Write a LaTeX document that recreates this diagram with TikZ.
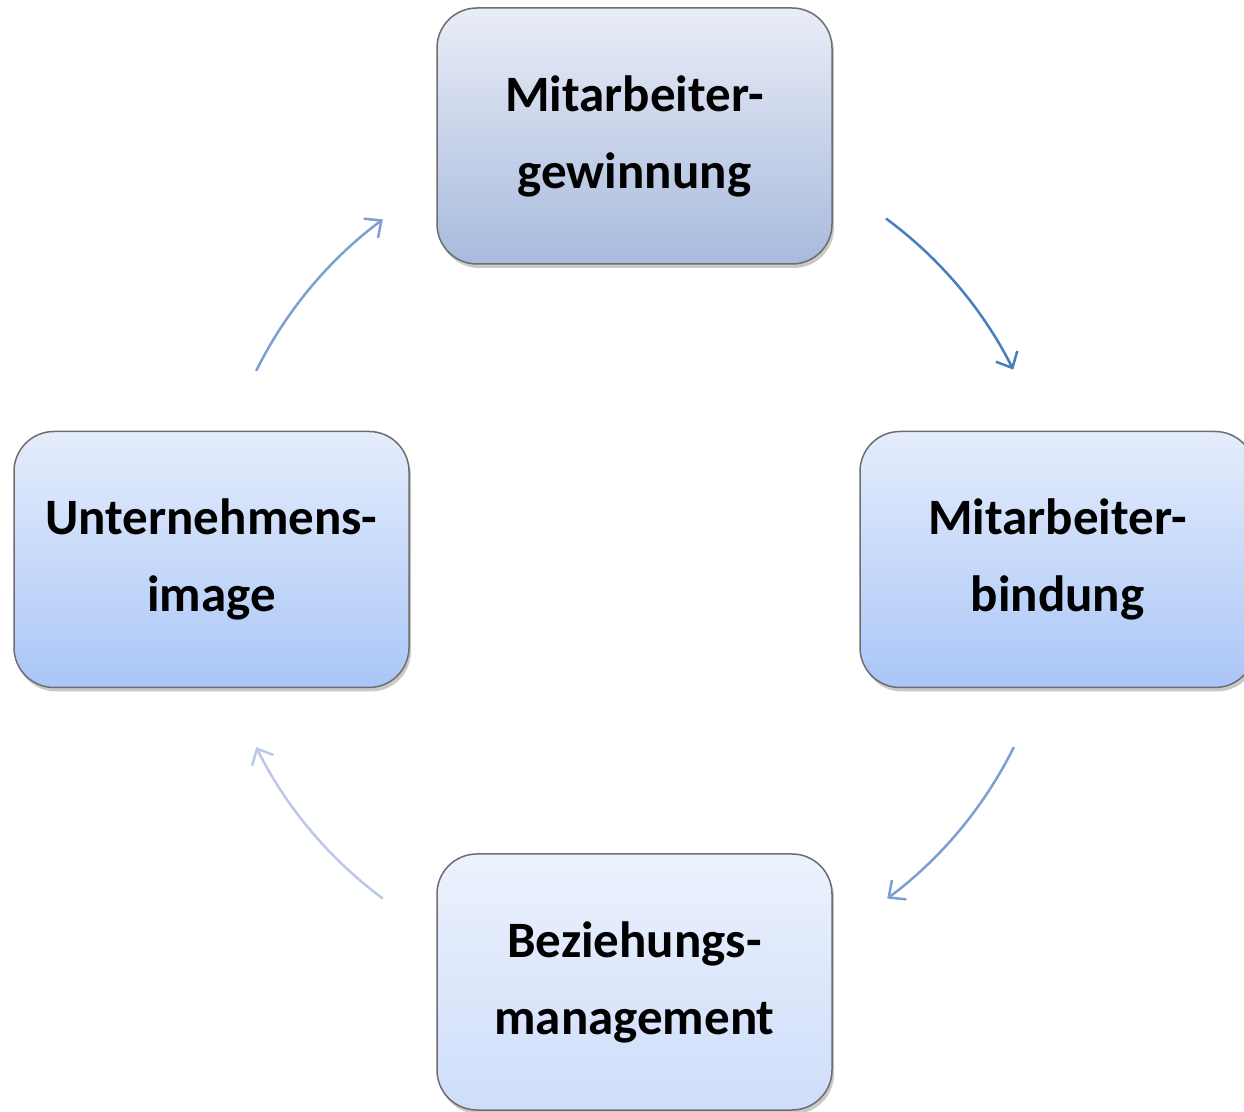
\documentclass[tikz,border=0pt]{standalone}
\usepackage{fontspec}
\setmainfont{Carlito}
\usetikzlibrary{arrows.meta,shadows,calc}
\definecolor{topA}{RGB}{233,237,247}
\definecolor{topB}{RGB}{168,186,221}
\definecolor{sideA}{RGB}{229,237,252}
\definecolor{sideB}{RGB}{170,198,247}
\definecolor{botA}{RGB}{236,242,253}
\definecolor{botB}{RGB}{206,221,250}
\definecolor{edge}{RGB}{110,110,110}
\definecolor{arrA}{RGB}{74,126,187}
\definecolor{arrB}{RGB}{125,159,210}
\definecolor{arrC}{RGB}{186,202,230}
\begin{document}
\begin{tikzpicture}[x=1pt,y=1pt,
  box/.style={draw=edge, line width=1.5pt, rounded corners=40pt,
    minimum width=395pt, minimum height=256pt, align=center,
    font=\fontsize{51}{77}\selectfont\bfseries,
    drop shadow={shadow xshift=2pt, shadow yshift=-4pt, opacity=0.35, fill=black!60}},
  cyc/.style={line width=2.5pt, -{Straight Barb[length=13pt,width=24pt,line width=2.5pt]}}
]
\useasboundingbox (0,0) rectangle (1244,1111);
\fill[white] (0,0) rectangle (1244,1111);
\node[box, top color=topA, bottom color=topB] (gew) at (634.5,975) {Mitarbeiter-\\gewinnung};
\node[box, top color=sideA, bottom color=sideB] (bin) at (1057.5,551.5) {Mitarbeiter-\\bindung};
\node[box, top color=botA, bottom color=botB] (bez) at (634.5,129) {Beziehungs-\\management};
\node[box, top color=sideA, bottom color=sideB] (img) at (211.5,551.5) {Unternehmens-\\image};
\coordinate (c) at (635,552);
\coordinate (a1) at ($(c)+(53.6:423)$);
\coordinate (a2) at ($(c)+(-26.4:423)$);
\coordinate (a3) at ($(c)+(233.4:423)$);
\coordinate (a4) at ($(c)+(153.6:423)$);
\draw[cyc, draw=arrA] (a1) arc[start angle=53.6, end angle=26.6, radius=423];
\draw[cyc, draw=arrB] (a2) arc[start angle=-26.4, end angle=-53.4, radius=423];
\draw[cyc, draw=arrC] (a3) arc[start angle=233.4, end angle=206.4, radius=423];
\draw[cyc, draw=arrB] (a4) arc[start angle=153.6, end angle=126.6, radius=423];
\end{tikzpicture}
\end{document}
